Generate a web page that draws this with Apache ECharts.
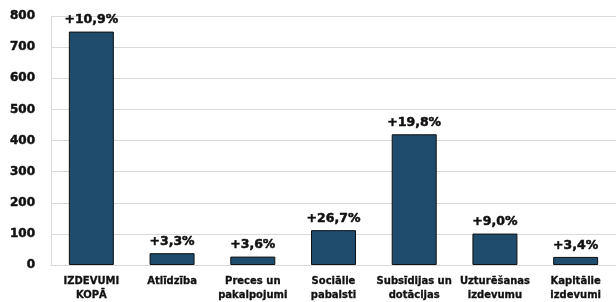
<!DOCTYPE html>
<html>
<head>
    <meta charset="utf-8">
    <title>Izdevumi</title>
    <script src="https://cdn.jsdelivr.net/npm/echarts@6/dist/echarts.min.js"></script>
    <style>
        html, body { margin: 0; padding: 0; background: #fff; }
        #chart1 { width: 616px; height: 302px; }
    </style>
</head>
<body>
<div id="chart1"></div>
<script>
    // dati no attēla
    var categories = ['IZDEVUMI\nKOPĀ', 'Atlīdzība', 'Preces un\npakalpojumi', 'Sociālie\npabalsti',
        'Subsīdijas un\ndotācijas', 'Uzturēšanas\nizdevumu', 'Kapitālie\nizdevumi'];
    var values = [750, 38, 27, 112, 420, 101, 26];
    var changes = ['+10,9%', '+3,3%', '+3,6%', '+26,7%', '+19,8%', '+9,0%', '+3,4%'];
    var yTicks = [0, 100, 200, 300, 400, 500, 600, 700, 800];

    var font = 'DejaVu Sans';
    var myChart = echarts.init(document.getElementById('chart1'));

    var option = {
        animation: false,
        grid: { left: 51, top: 16, width: 578, bottom: 37, containLabel: false },
        xAxis: {
            type: 'category',
            data: categories,
            axisLine: { show: true, lineStyle: { color: '#d9d9d9' } },
            axisTick: { show: false },
            axisLabel: {
                interval: 0,
                margin: 9,
                color: '#111',
                fontFamily: font,
                fontWeight: 'bold',
                fontSize: 10,
                lineHeight: 14,
                textBorderColor: '#111',
                textBorderWidth: 0.3
            }
        },
        yAxis: {
            type: 'value',
            min: yTicks[0],
            max: yTicks[yTicks.length - 1],
            interval: 100,
            axisLine: { show: true, lineStyle: { color: '#d9d9d9' } },
            axisTick: { show: false },
            splitLine: { lineStyle: { color: '#d9d9d9' } },
            axisLabel: {
                margin: 16,
                color: '#111',
                fontFamily: font,
                fontWeight: 'bold',
                fontSize: 12,
                textBorderColor: '#111',
                textBorderWidth: 0.5
            }
        },
        series: [{
            type: 'bar',
            data: values,
            barWidth: 45,
            itemStyle: { color: '#1f4b6c', borderColor: '#111', borderWidth: 1 },
            label: {
                show: true,
                position: 'top',
                distance: 5,
                color: '#111',
                fontFamily: font,
                fontWeight: 'bold',
                fontSize: 12.5,
                textBorderColor: '#111',
                textBorderWidth: 0.5,
                formatter: function (p) { return changes[p.dataIndex]; }
            }
        }]
    };

    myChart.setOption(option);
</script>
</body>
</html>
